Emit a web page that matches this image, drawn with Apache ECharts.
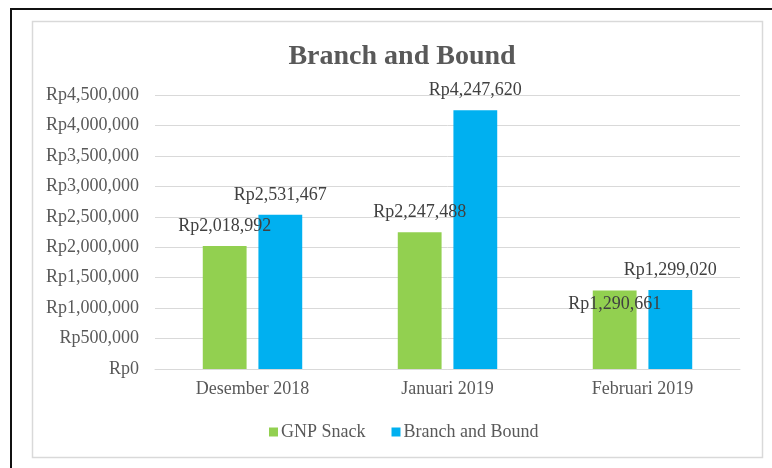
<!DOCTYPE html>
<html>
<head>
<meta charset="utf-8">
<script src="https://cdn.jsdelivr.net/npm/echarts@6/dist/echarts.min.js"></script>
<style>
html, body { margin: 0; padding: 0; background: #fff; }
#main { width: 772px; height: 468px; }
</style>
</head>
<body>
<div id="main"></div>
<script>
// data
const months = ['Desember 2018', 'Januari 2019', 'Februari 2019'];
const gnpSnack = [2018992, 2247488, 1290661];
const branchBound = [2531467, 4247620, 1299020];
const yTicks = [0, 500000, 1000000, 1500000, 2000000, 2500000, 3000000, 3500000, 4000000, 4500000];

const fontFam = '"Liberation Serif", "Times New Roman", serif';
const rp = v => 'Rp' + Number(v).toLocaleString('en-US');

// label nudges, excel pushed the feb green one down below the bar top
const greenShift = [[0, 0], [0, 0], [0, 34]];
const blueShift = [[0, 0], [0, 0], [0, 0]];

function withLabels(values, shift) {
  return values.map((v, i) => ({
    value: v,
    label: { offset: shift[i] }
  }));
}

let myChart = echarts.init(document.getElementById('main'));
let labelStyle = {
  show: true,
  position: 'top',
  distance: 11,
  fontFamily: fontFam,
  fontSize: 18,
  color: '#404040',
  formatter: p => rp(p.value)
};
let option = {
  animation: false,
  backgroundColor: '#fff',
  title: {
    text: 'Branch and Bound',
    left: 397,
    textAlign: 'center',
    top: 38,
    textStyle: { fontFamily: fontFam, fontSize: 28, fontWeight: 'bold', color: '#595959' }
  },
  graphic: [
    { type: 'polyline', shape: { points: [[11, 468], [11, 9], [772, 9]] }, style: { stroke: '#111', lineWidth: 2, fill: null } },
    { type: 'rect', shape: { x: 32.5, y: 21.5, width: 730, height: 436 }, style: { stroke: '#d9d9d9', lineWidth: 1.5, fill: null } }
  ],
  grid: { left: 155, right: 32, top: 95, bottom: 99 },
  legend: {
    data: ['GNP Snack', 'Branch and Bound'],
    left: 264,
    top: 418,
    icon: 'rect',
    itemWidth: 9,
    itemHeight: 9,
    itemGap: 26,
    textStyle: { fontFamily: fontFam, fontSize: 18, color: '#595959', padding: [0, 0, 0, -2] }
  },
  xAxis: {
    type: 'category',
    data: months,
    axisTick: { show: false },
    axisLine: { lineStyle: { color: '#d9d9d9' } },
    axisLabel: { fontFamily: fontFam, fontSize: 18, color: '#595959', margin: 11 }
  },
  yAxis: {
    type: 'value',
    min: yTicks[0],
    max: yTicks[yTicks.length - 1],
    interval: yTicks[1] - yTicks[0],
    axisLine: { show: false },
    axisTick: { show: false },
    splitLine: { lineStyle: { color: '#d9d9d9' } },
    axisLabel: { fontFamily: fontFam, fontSize: 18, color: '#595959', margin: 16, formatter: rp }
  },
  series: [
    {
      name: 'GNP Snack',
      type: 'bar',
      data: withLabels(gnpSnack, greenShift),
      barGap: '27%',
      barCategoryGap: '49%',
      itemStyle: { color: '#92d050' },
      label: labelStyle
    },
    {
      name: 'Branch and Bound',
      type: 'bar',
      data: withLabels(branchBound, blueShift),
      itemStyle: { color: '#00b0f0' },
      label: labelStyle
    }
  ]
};
myChart.setOption(option);
</script>
</body>
</html>
